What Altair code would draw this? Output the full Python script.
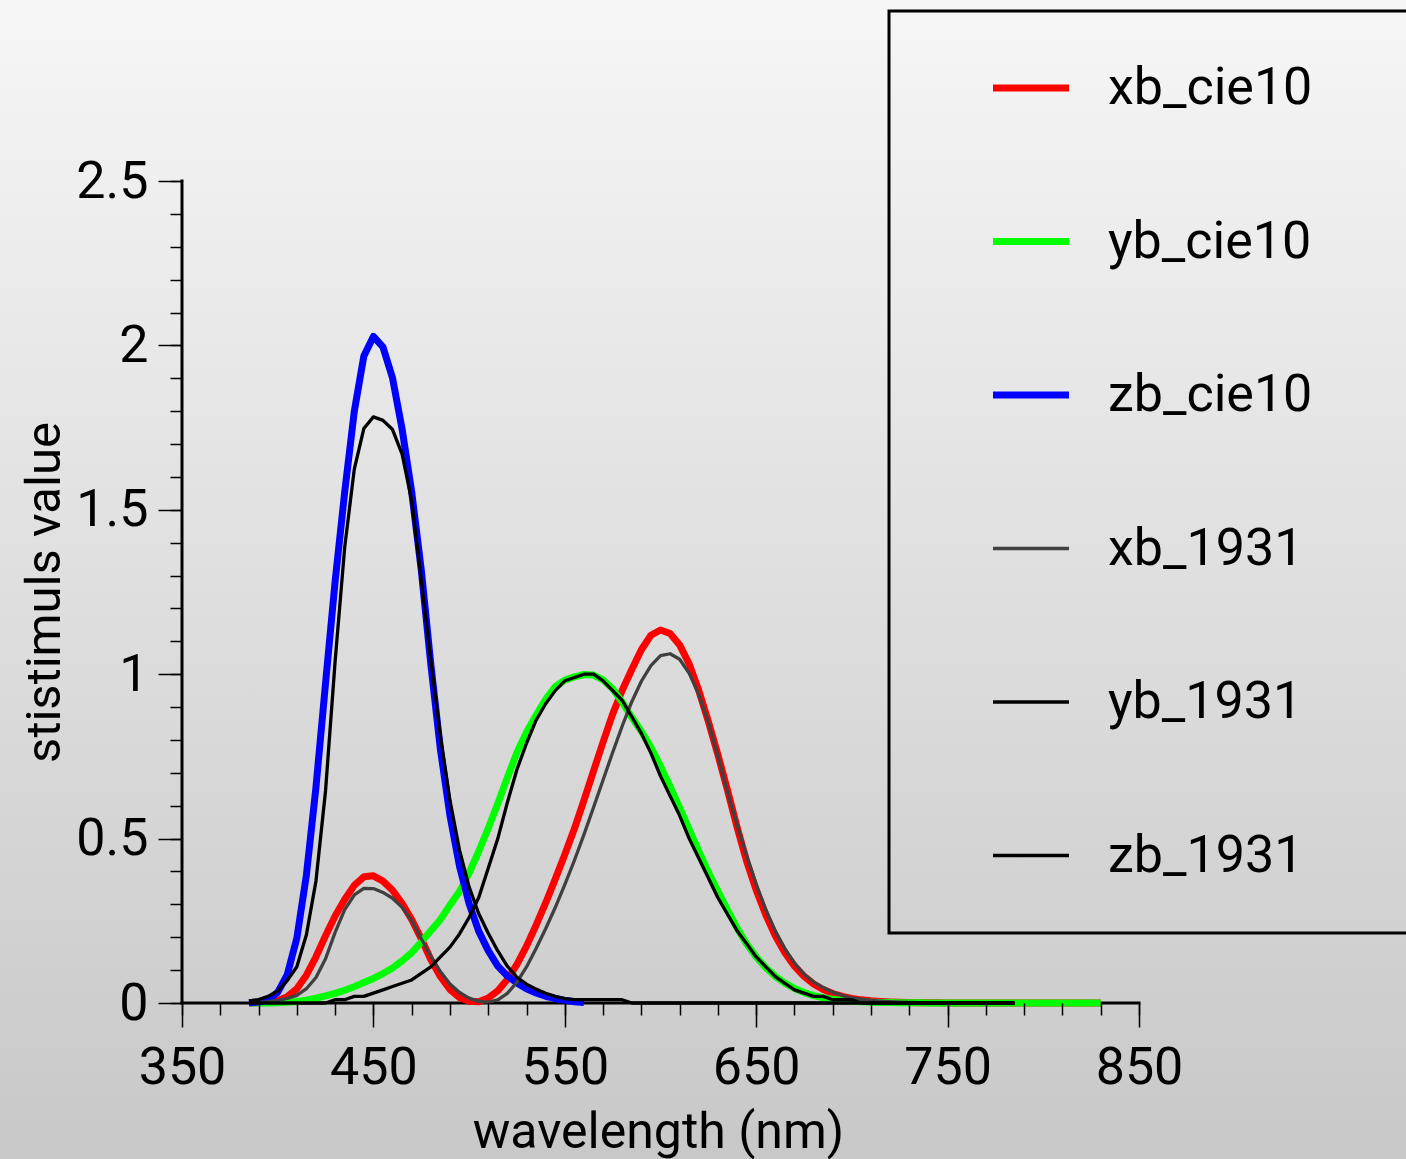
import altair as alt
import pandas as pd

# ---------------- data ----------------
WL_1931 = list(range(385, 790, 5))      # 81 samples
WL_CIE10 = list(range(385, 835, 5))     # 90 samples
WL_ZB10 = list(range(385, 565, 5))      # 36 samples

XB_CIE10 = [0.0002, 0.0007, 0.0024, 0.0072, 0.0191, 0.0434, 0.0847, 0.1406, 0.2045, 0.2647,
            0.3147, 0.3577, 0.3837, 0.3867, 0.3707, 0.3430, 0.3023, 0.2541, 0.1956, 0.1323,
            0.0805, 0.0411, 0.0162, 0.0051, 0.0038, 0.0154, 0.0375, 0.0714, 0.1177, 0.1730,
            0.2365, 0.3042, 0.3768, 0.4516, 0.5298, 0.6161, 0.7052, 0.7938, 0.8787, 0.9512,
            1.0142, 1.0743, 1.1185, 1.1343, 1.1240, 1.0891, 1.0305, 0.9507, 0.8563, 0.7549,
            0.6475, 0.5351, 0.4316, 0.3437, 0.2683, 0.2043, 0.1526, 0.1122, 0.0813, 0.0579,
            0.0409, 0.0286, 0.0199, 0.0138, 0.0096, 0.0066, 0.0046, 0.0031, 0.0022, 0.0015,
            0.0010, 0.0007, 0.0005, 0.0003, 0.0002, 0.0002, 0.0001, 0.0001, 0.0001, 0.0000,
            0.0000, 0.0000, 0.0000, 0.0000, 0.0000, 0.0000, 0.0000, 0.0000, 0.0000, 0.0000]

YB_CIE10 = [0.0000, 0.0001, 0.0003, 0.0008, 0.0020, 0.0045, 0.0088, 0.0145, 0.0214, 0.0295,
            0.0387, 0.0496, 0.0621, 0.0747, 0.0895, 0.1063, 0.1282, 0.1528, 0.1852, 0.2199,
            0.2536, 0.2977, 0.3391, 0.3954, 0.4608, 0.5314, 0.6067, 0.6857, 0.7618, 0.8233,
            0.8752, 0.9238, 0.9620, 0.9822, 0.9918, 0.9991, 0.9973, 0.9824, 0.9556, 0.9152,
            0.8689, 0.8256, 0.7774, 0.7204, 0.6583, 0.5939, 0.5280, 0.4618, 0.3981, 0.3396,
            0.2835, 0.2283, 0.1798, 0.1402, 0.1076, 0.0812, 0.0603, 0.0441, 0.0318, 0.0226,
            0.0159, 0.0111, 0.0077, 0.0054, 0.0037, 0.0026, 0.0018, 0.0012, 0.0008, 0.0006,
            0.0004, 0.0003, 0.0002, 0.0001, 0.0001, 0.0000, 0.0000, 0.0000, 0.0000, 0.0000,
            0.0000, 0.0000, 0.0000, 0.0000, 0.0000, 0.0000, 0.0000, 0.0000, 0.0000, 0.0000]

ZB_CIE10 = [0.0007, 0.0029, 0.0105, 0.0323, 0.0860, 0.1971, 0.3894, 0.6568, 0.9725, 1.2825,
            1.5535, 1.7985, 1.9673, 2.0273, 1.9948, 1.9007, 1.7454, 1.5549, 1.3176, 1.0302,
            0.7721, 0.5701, 0.4153, 0.3024, 0.2185, 0.1592, 0.1120, 0.0822, 0.0607, 0.0431,
            0.0305, 0.0206, 0.0137, 0.0079, 0.0040, 0.0011]

XB_1931 = [0.0014, 0.0022, 0.0042, 0.0077, 0.0143, 0.0232, 0.0435, 0.0776, 0.1344, 0.2148,
           0.2839, 0.3285, 0.3483, 0.3481, 0.3362, 0.3187, 0.2908, 0.2511, 0.1954, 0.1421,
           0.0956, 0.0580, 0.0320, 0.0147, 0.0049, 0.0024, 0.0093, 0.0291, 0.0633, 0.1096,
           0.1655, 0.2257, 0.2904, 0.3597, 0.4334, 0.5121, 0.5945, 0.6784, 0.7621, 0.8425,
           0.9163, 0.9786, 1.0263, 1.0567, 1.0622, 1.0456, 1.0026, 0.9384, 0.8544, 0.7514,
           0.6424, 0.5419, 0.4479, 0.3608, 0.2835, 0.2187, 0.1649, 0.1212, 0.0874, 0.0636,
           0.0468, 0.0329, 0.0227, 0.0158, 0.0114, 0.0081, 0.0058, 0.0041, 0.0029, 0.0020,
           0.0014, 0.0010, 0.0007, 0.0005, 0.0003, 0.0002, 0.0002, 0.0001, 0.0001, 0.0001,
           0.0000]

YB_1931 = [0.00, 0.00, 0.00, 0.00, 0.00, 0.00, 0.00, 0.00, 0.00, 0.01,
           0.01, 0.02, 0.02, 0.03, 0.04, 0.05, 0.06, 0.07, 0.09, 0.11,
           0.14, 0.17, 0.21, 0.26, 0.32, 0.41, 0.50, 0.61, 0.71, 0.79,
           0.86, 0.91, 0.95, 0.98, 0.99, 1.00, 1.00, 0.98, 0.95, 0.92,
           0.87, 0.82, 0.76, 0.69, 0.63, 0.57, 0.50, 0.44, 0.38, 0.32,
           0.27, 0.22, 0.18, 0.14, 0.11, 0.08, 0.06, 0.04, 0.03, 0.02,
           0.02, 0.01, 0.01, 0.01, 0.00, 0.00, 0.00, 0.00, 0.00, 0.00,
           0.00, 0.00, 0.00, 0.00, 0.00, 0.00, 0.00, 0.00, 0.00, 0.00,
           0.00]

ZB_1931 = [0.0065, 0.0106, 0.0201, 0.0362, 0.0679, 0.1102, 0.2074, 0.3713, 0.6456, 1.0391,
           1.3856, 1.6230, 1.7471, 1.7826, 1.7721, 1.7441, 1.6692, 1.5281, 1.2876, 1.0419,
           0.8130, 0.6162, 0.4652, 0.3533, 0.2720, 0.2123, 0.1582, 0.1117, 0.0783, 0.0573,
           0.0422, 0.0298, 0.0203, 0.0134, 0.0100, 0.0100, 0.0100, 0.0100, 0.0100, 0.0100,
           0.0000, 0.0000, 0.0000, 0.0000, 0.0000, 0.0000, 0.0000, 0.0000, 0.0000, 0.0000,
           0.0000, 0.0000, 0.0000, 0.0000, 0.0000, 0.0000, 0.0000, 0.0000, 0.0000, 0.0000,
           0.0000, 0.0000, 0.0000, 0.0000, 0.0000, 0.0000, 0.0000, 0.0000, 0.0000, 0.0000,
           0.0000, 0.0000, 0.0000, 0.0000, 0.0000, 0.0000, 0.0000, 0.0000, 0.0000, 0.0000,
           0.0000]

SERIES = ["xb_cie10", "yb_cie10", "zb_cie10", "xb_1931", "yb_1931", "zb_1931"]
COLORS = ["#ff0000", "#00ff00", "#0000ff", "#404040", "#000000", "#000000"]
WIDTHS = [7, 7, 7, 3.3, 3.3, 3.3]

X_MAJOR = [350, 450, 550, 650, 750, 850]
X_MINOR = [350, 370, 390, 410, 430, 450, 470, 490, 510, 530, 550, 570, 590, 610, 630,
           650, 670, 690, 710, 730, 750, 770, 790, 810, 830, 850]
Y_MAJOR = [0, 0.5, 1, 1.5, 2, 2.5]
Y_MINOR = [0, 0.1, 0.2, 0.3, 0.4, 0.5, 0.6, 0.7, 0.8, 0.9, 1.0, 1.1, 1.2, 1.3, 1.4, 1.5,
           1.6, 1.7, 1.8, 1.9, 2.0, 2.1, 2.2, 2.3, 2.4, 2.5]

# axis lines (data coordinates)
AXIS_LINES = pd.DataFrame({"x0": [350, 350], "x1": [850, 350], "y0": [0, 0], "y1": [0, 2.5]})


def frame(name, wl, vals):
    return pd.DataFrame({"wavelength": wl, "value": vals, "series": name})


cie10 = pd.concat([frame("xb_cie10", WL_CIE10, XB_CIE10),
                   frame("yb_cie10", WL_CIE10, YB_CIE10),
                   frame("zb_cie10", WL_ZB10, ZB_CIE10)], ignore_index=True)
c1931 = pd.concat([frame("xb_1931", WL_1931, XB_1931),
                   frame("yb_1931", WL_1931, YB_1931),
                   frame("zb_1931", WL_1931, ZB_1931)], ignore_index=True)

FONT = "Roboto"
W, H = 957, 822
PAD = {"left": 182, "top": 181, "right": 267, "bottom": 156}

xs = alt.Scale(domain=[350, 850], nice=False, zero=False)
ys = alt.Scale(domain=[0, 2.5], nice=False, zero=False)
cs = alt.Scale(domain=SERIES, range=COLORS)
ws = alt.Scale(type="ordinal", domain=SERIES, range=WIDTHS)

# the legend box runs past the right edge of the picture; an invisible spacer
# title on its right side widens it
legend = alt.Legend(
    title="M", titleOrient="right", titleFontSize=26, titlePadding=40, titleOpacity=0,
    orient="none", legendX=707, legendY=-170,
    symbolType="stroke", symbolSize=5776, symbolOffset=65,
    labelOffset=35.5, padding=35.5, rowPadding=70.5, clipHeight=83,
    labelFont=FONT, labelFontSize=52, labelColor="black", labelLimit=800,
    strokeColor="black",
)

common_axis = dict(tickColor="black", tickWidth=1.5, domain=False, grid=False, zindex=1,
                   labelFlush=False, labelOverlap=False)

x_major = alt.Axis(values=X_MAJOR, orient="bottom", tickSize=24, format="d",
                   labelFont=FONT, labelFontSize=52, labelColor="black",
                   labelPadding=56, labelBaseline="alphabetic",
                   title="wavelength (nm)", titleFont=FONT, titleFontSize=50,
                   titleFontWeight="normal", titleColor="black",
                   titleX=476, titleY=144, titleAlign="center", titleBaseline="alphabetic",
                   **common_axis)
x_minor = alt.Axis(values=X_MINOR, orient="bottom", tickSize=12, labels=False, title=None,
                   **common_axis)
y_major = alt.Axis(values=Y_MAJOR, orient="left", tickSize=24, format="~f",
                   labelFont=FONT, labelFontSize=52, labelColor="black", labelPadding=10,
                   title="stistimuls value", titleFont=FONT, titleFontSize=49,
                   titleFontWeight="normal", titleColor="black", titleAngle=270,
                   titleX=-123, titleY=411, titleAlign="center", titleBaseline="alphabetic",
                   **common_axis)
y_minor = alt.Axis(values=Y_MINOR, orient="left", tickSize=12, labels=False, title=None,
                   **common_axis)

gradient = alt.LinearGradient(
    gradient="linear",
    stops=[alt.GradientStop(color="#f6f6f6", offset=0),
           alt.GradientStop(color="#c8c8c8", offset=1)],
    x1=0, x2=0, y1=0, y2=1,
)

bg = alt.Chart(pd.DataFrame({"k": [0]})).mark_rect(color=gradient).encode(
    x=alt.value(-PAD["left"]), x2=alt.value(W + PAD["right"]),
    y=alt.value(-PAD["top"]), y2=alt.value(H + PAD["bottom"]),
)

axes_lines = alt.Chart(AXIS_LINES).mark_rule(color="black", strokeWidth=3, strokeCap="square").encode(
    x=alt.X("x0:Q", scale=xs, axis=None),
    x2="x1:Q",
    y=alt.Y("y0:Q", scale=ys, axis=None),
    y2="y1:Q",
)

lines10 = alt.Chart(cie10).mark_line(strokeJoin="round").encode(
    x=alt.X("wavelength:Q", scale=xs, axis=x_major),
    y=alt.Y("value:Q", scale=ys, axis=y_major),
    color=alt.Color("series:N", scale=cs, legend=legend),
    strokeWidth=alt.StrokeWidth("series:N", scale=ws, legend=legend),
)

lines31 = alt.Chart(c1931).mark_line(strokeJoin="round").encode(
    x=alt.X("wavelength:Q", scale=xs, axis=x_minor),
    y=alt.Y("value:Q", scale=ys, axis=y_minor),
    color=alt.Color("series:N", scale=cs, legend=legend),
    strokeWidth=alt.StrokeWidth("series:N", scale=ws, legend=legend),
)

chart = alt.layer(bg, axes_lines, lines10, lines31).resolve_axis(
    x="independent", y="independent"
).properties(
    width=W, height=H,
    autosize=alt.AutoSizeParams(type="none"),
    padding=PAD,
    background="#dddddd",
).configure(font=FONT).configure_view(strokeWidth=0).configure_legend(strokeWidth=3)

chart.save("out.html", embed_options={"renderer": "svg", "actions": False})
